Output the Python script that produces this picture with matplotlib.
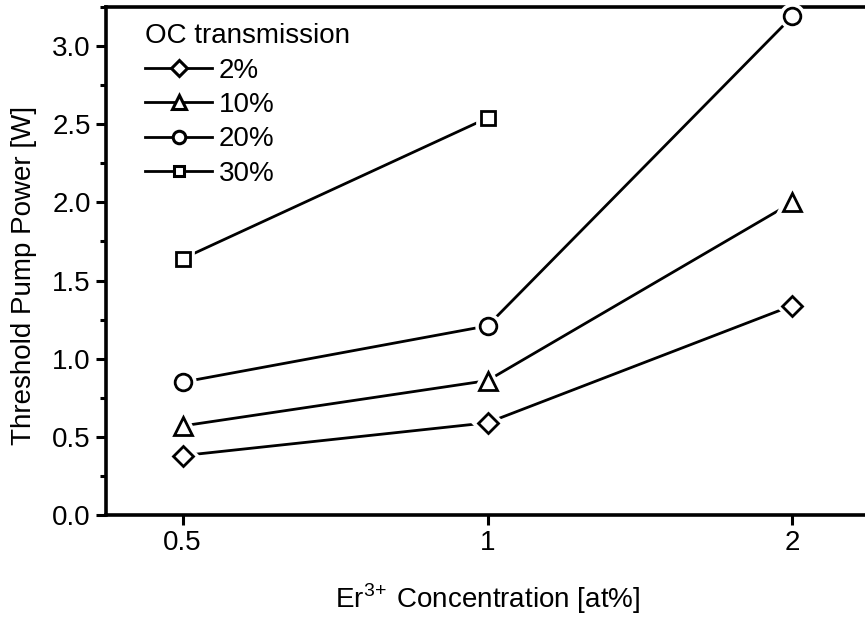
import matplotlib
matplotlib.use("Agg")
import matplotlib.pyplot as plt
from matplotlib.lines import Line2D
from matplotlib.ticker import FixedLocator, NullLocator, MultipleLocator, FormatStrFormatter

plt.rcParams['font.family'] = ['Liberation Sans', 'DejaVu Sans']
plt.rcParams['mathtext.fontset'] = 'custom'
plt.rcParams['mathtext.rm'] = 'Liberation Sans'

# Er3+ concentration [at%] and threshold pump power [W] per OC transmission
concentration = [0.5, 1, 2]
oc_labels = ["2%", "10%", "20%", "30%"]
p_th_2 = [0.38, 0.59, 1.34]
p_th_10 = [0.57, 0.86, 2.00]
p_th_20 = [0.85, 1.21, 3.19]
p_th_30 = [1.64, 2.54]          # no 2 at% point
x_ticks = [0.5, 1, 2]
x_tick_labels = ["0.5", "1", "2"]

series = [
    (concentration, p_th_2, 'D', 10.5),
    (concentration, p_th_10, '^', 13),
    (concentration, p_th_20, 'o', 12),
    (concentration[:2], p_th_30, 's', 10.5),
]

FS = 20

fig = plt.figure(figsize=(8.65, 6.17), dpi=100)
ax = fig.add_axes([0.1225, 0.1653, 0.882, 0.8234])

lw = 2.0
handles = []
for (xs, ys, mk, ms), lab in zip(series, oc_labels):
    ax.plot(xs, ys, color='black', lw=lw, zorder=2, solid_capstyle='butt')
    # white halo leaves a small gap between the line and each symbol
    ax.plot(xs, ys, ls='none', marker=mk, ms=ms, mfc='white', mec='white',
            mew=7, zorder=3, clip_on=False)
    ax.plot(xs, ys, ls='none', marker=mk, ms=ms, mfc='white', mec='black',
            mew=2.0, zorder=4, clip_on=False)
    handles.append(Line2D([], [], color='black', lw=lw, marker=mk,
                          ms=ms * 0.75, mfc='white', mec='black', mew=2.2))

ax.set_xscale('log')
ax.set_xlim(0.42, 2.38)
ax.xaxis.set_major_locator(FixedLocator(x_ticks))
ax.set_xticklabels(x_tick_labels)
ax.xaxis.set_minor_locator(NullLocator())

ax.set_ylim(0, 3.25)
ax.yaxis.set_major_locator(MultipleLocator(0.5))
ax.yaxis.set_minor_locator(MultipleLocator(0.25))
ax.yaxis.set_major_formatter(FormatStrFormatter('%.1f'))

for side in ('left', 'bottom', 'top'):
    ax.spines[side].set_linewidth(2.6)
ax.spines['right'].set_visible(False)

ax.tick_params(axis='both', which='major', direction='out', length=7,
               width=2.2, labelsize=FS, pad=4)
ax.tick_params(axis='y', which='minor', direction='out', length=4, width=2.2)
ax.tick_params(top=False, right=False)

ax.set_ylabel("Threshold Pump Power [W]", fontsize=FS)
ax.yaxis.set_label_coords(-0.091, 0.472)
ax.set_xlabel(r"Er$^{\mathregular{3\!+}}\:$Concentration [at%]", fontsize=FS,
              labelpad=18)

leg = ax.legend(handles, oc_labels, title="OC transmission", loc='upper left',
                bbox_to_anchor=(0.026, 1.006), frameon=False, fontsize=FS,
                title_fontsize=FS, handlelength=2.4, handletextpad=0.25,
                labelspacing=0.3, borderpad=0.2, alignment='left')

fig.savefig("out.png", dpi=100)
